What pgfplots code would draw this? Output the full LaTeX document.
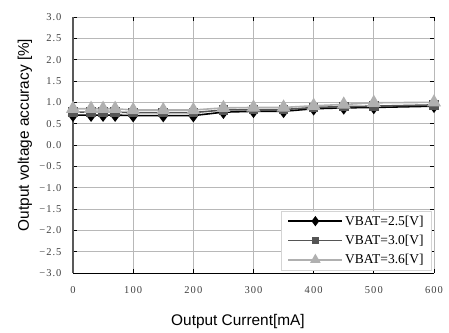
\documentclass[border=0pt]{standalone}
\usepackage{fontspec}
\setmainfont{Liberation Sans}
\newfontfamily\serifnum[LetterSpace=10]{Liberation Serif}
\newfontfamily\seriflg{Liberation Serif}
\usepackage{pgfplots}
\pgfplotsset{compat=1.18}
\definecolor{gridc}{HTML}{B8B8B8}
\definecolor{cA}{HTML}{000000}
\definecolor{cB}{HTML}{555555}
\definecolor{cC}{HTML}{B0B0B0}
\pgfplotstableread{
x    a     b     c
0    0.70  0.77  0.85
30   0.70  0.77  0.85
50   0.70  0.77  0.85
70   0.70  0.77  0.85
100  0.69  0.76  0.82
150  0.69  0.76  0.82
200  0.69  0.76  0.82
250  0.77  0.82  0.87
300  0.79  0.83  0.88
350  0.79  0.83  0.88
400  0.85  0.88  0.92
450  0.87  0.90  0.95
500  0.88  0.91  0.99
600  0.91  0.94  1.00
}\datatab
\begin{document}
\begin{tikzpicture}
\useasboundingbox (0,0) rectangle (449bp,333bp);
\begin{axis}[
  at={(73bp,60bp)}, anchor=south west,
  scale only axis, width=361bp, height=256bp,
  xmin=0, xmax=600, ymin=-3, ymax=3,
  clip=false,
  axis line style={draw=none},
  xtick={0,100,...,600},
  xticklabels={0,100,200,300,400,500,600},
  ytick={-3,-2.5,...,3},
  yticklabels={−3.0,−2.5,−2.0,−1.5,−1.0,−0.5,0.0,0.5,1.0,1.5,2.0,2.5,3.0},
  grid=major,
  major grid style={gridc, line width=0.8bp},
  major tick length=4bp,
  tick style={black, line width=0.8bp},
  ticklabel style={font=\serifnum\fontsize{10.5bp}{12bp}\selectfont, text=black!75},
  yticklabel style={xshift=-8bp},
  xticklabel style={yshift=-10bp},
  xlabel={Output Current[mA]},
  ylabel={Output voltage accuracy [\%]},
  label style={font=\fontsize{15.4bp}{18bp}\selectfont},
  xlabel style={anchor=center, at={(axis description cs:0.457,-0.191)}},
  ylabel style={anchor=center, at={(axis description cs:-0.133,0.539)}},
  legend cell align=left,
  legend style={at={(axis description cs:0.994,0.012)}, anchor=south east,
    draw=gridc!60, fill=white, font=\seriflg\fontsize{13.5bp}{15bp}\selectfont,
    row sep=4.5bp, inner xsep=6bp, inner ysep=2.5bp},
  legend image code/.code={\draw[mark repeat=2,mark phase=2,#1,every mark/.append style={scale=0.7}] plot coordinates {(0bp,0bp) (27bp,0bp) (54bp,0bp)};},
]
\addplot[cA, line width=1.6bp, mark=diamond*, mark size=5.5bp, mark options={fill=cA, draw=cA}] table[x=x,y=a]{\datatab};
\addlegendentry{VBAT=2.5[V]}
\addplot[cB, line width=1.6bp, mark=square*, mark size=4bp, mark options={fill=cB, draw=cB}] table[x=x,y=b]{\datatab};
\addlegendentry{VBAT=3.0[V]}
\addplot[cC, line width=1.6bp, mark=triangle*, mark size=6.5bp, mark options={fill=cC, draw=cC}] table[x=x,y=c]{\datatab};
\addlegendentry{VBAT=3.6[V]}
\draw[black!65, line width=1.5bp] (axis cs:0,-3) -- (axis cs:0,3);
\draw[black, line width=1bp] (axis cs:0,-3) -- (axis cs:600,-3);
\end{axis}
\end{tikzpicture}
\end{document}
